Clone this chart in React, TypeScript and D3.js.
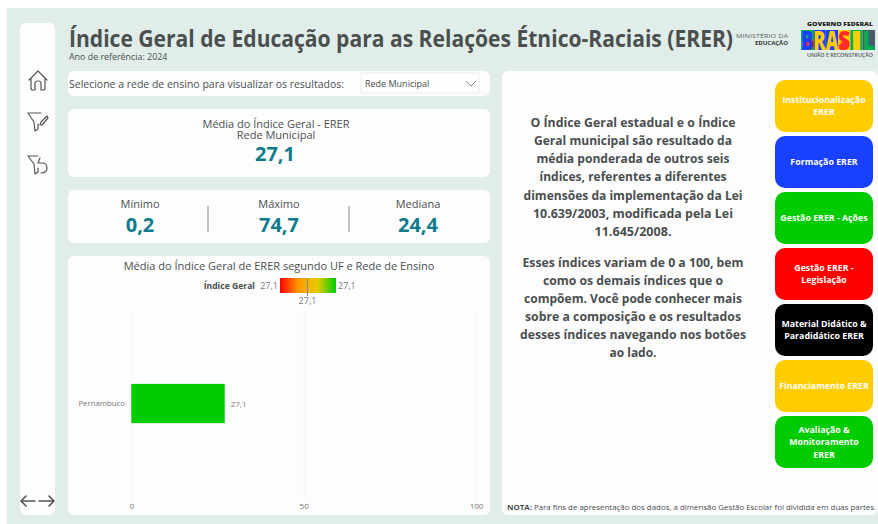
import React, { useEffect, useRef } from 'react';
import * as d3 from 'd3';

const title = 'Índice Geral de Educação para as Relações Étnico-Raciais (ERER)';
const subtitle = 'Ano de referência: 2024';
const selectorLabel = 'Selecione a rede de ensino para visualizar os resultados:';
const selectedNetwork = 'Rede Municipal';

const statLabels = ['Mínimo', 'Máximo', 'Mediana'];
const statValues = ['0,2', '74,7', '24,4'];

const categories = ['Pernambuco'];
const values = [27.1];
const xTicks = [0, 50, 100];
const legendStops = ['#ff0000', '#ff9900', '#e6cc00', '#00cc00'];

const paragraphOne = [
  'O Índice Geral estadual e o Índice',
  'Geral municipal são resultado da',
  'média ponderada de outros seis',
  'índices, referentes a diferentes',
  'dimensões da implementação da Lei',
  '10.639/2003, modificada pela Lei',
  '11.645/2008.',
];
const paragraphTwo = [
  'Esses índices variam de 0 a 100, bem',
  'como os demais índices que o',
  'compõem. Você pode conhecer mais',
  'sobre a composição e os resultados',
  'desses índices navegando nos botões',
  'ao lado.',
];

const buttonLabels = [
  ['Institucionalização', 'ERER'],
  ['Formação ERER'],
  ['Gestão ERER - Ações'],
  ['Gestão ERER -', 'Legislação'],
  ['Material Didático &', 'Paradidático ERER'],
  ['Financiamento ERER'],
  ['Avaliação &', 'Monitoramento', 'ERER'],
];
const buttonColors = ['#ffcc00', '#1a40ff', '#00cc00', '#ff0000', '#000000', '#ffcc00', '#00cc00'];

const logoLetters = ['B', 'R', 'A', 'S', 'I', 'L'];
const logoColors = ['#1a40ff', '#ffcc00', '#ffcc00', '#ff2a2a', '#ffcc00', '#00b050'];
const logoBlocks = ['#00b050', '#1a40ff', '#1a40ff', '#ffcc00', '#00b050', '#4a5a6a'];

const FONT = '"Open Sans", "Noto Sans", sans-serif';
const DARK = '#4a4f4f';
const TEAL = '#0e7c8c';

// line widths of the two paragraphs as they measure in the reference
const widthsOne = [205, 198, 193, 187, 219, 200, 77];
const widthsTwo = [221, 180, 218, 216, 226, 47];

export default function App() {
  const ref = useRef<SVGSVGElement | null>(null);

  useEffect(() => {
    const svg = d3.select(ref.current);
    svg.selectAll('*').remove();
    svg.attr('font-family', FONT);

    const panel = (x: number, y: number, w: number, h: number, r = 6) =>
      svg.append('rect').attr('x', x).attr('y', y).attr('width', w).attr('height', h).attr('rx', r).attr('fill', '#fdfdfe');

    const text = (x: number, y: number, s: string, size: number, fill = DARK, anchor = 'start', weight = 400) =>
      svg.append('text').attr('x', x).attr('y', y).attr('font-size', size).attr('fill', fill)
        .attr('text-anchor', anchor).attr('font-weight', weight).text(s);

    // squeeze a text to the width it has in the reference
    const fit = (sel: any, w: number) => sel.attr('textLength', w).attr('lengthAdjust', 'spacingAndGlyphs');

    // background and cards
    svg.append('rect').attr('x', 7).attr('y', 8).attr('width', 871).attr('height', 516).attr('fill', '#e1ede8');
    panel(20, 23, 35, 492);
    panel(68, 71, 422, 25);
    panel(68, 109, 422, 68);
    panel(68, 190, 422, 53);
    panel(68, 256, 422, 259);
    panel(502, 71, 376, 444);

    // header
    fit(text(69, 47, title, 23, DARK, 'start', 700), 664);
    text(69, 59.5, subtitle, 8.9, DARK);

    // logos
    fit(text(736, 38, 'MINISTÉRIO DA', 6, '#5f6464'), 52);
    fit(text(755, 45, 'EDUCAÇÃO', 5.6, '#333', 'start', 700), 33);
    fit(text(807, 26, 'GOVERNO FEDERAL', 5.6, '#222', 'start', 800), 66);
    fit(text(807, 57, 'UNIÃO E RECONSTRUÇÃO', 4.6, '#555', 'start', 600), 66);
    const logoX = d3.scaleBand<string>().domain(logoLetters).range([801, 875]);
    svg.append('g').selectAll('rect').data(logoLetters).join('rect')
      .attr('x', d => logoX(d)!)
      .attr('y', 30)
      .attr('width', logoX.bandwidth())
      .attr('height', 20)
      .attr('fill', (_, i) => logoBlocks[i]);
    svg.append('circle').attr('cx', 808).attr('cy', 44).attr('r', 6).attr('fill', '#ff2a2a');
    svg.append('circle').attr('cx', 844).attr('cy', 46).attr('r', 4).attr('fill', '#ff2a2a');
    svg.append('g').selectAll('text').data(logoLetters).join('text')
      .attr('x', d => logoX(d)!)
      .attr('y', 50)
      .attr('font-size', 27)
      .attr('font-weight', 800)
      .attr('textLength', logoX.bandwidth())
      .attr('lengthAdjust', 'spacingAndGlyphs')
      .attr('fill', (_, i) => logoColors[i])
      .text(d => d);

    // selector
    fit(text(69, 88, selectorLabel, 11.4, DARK), 275);
    svg.append('rect').attr('x', 361).attr('y', 73).attr('width', 118).attr('height', 20)
      .attr('fill', '#fdfdfe').attr('stroke', '#e8ecec');
    text(365, 87, selectedNetwork, 9, DARK);
    svg.append('path').attr('d', 'M466,81 L471,86 L476,81').attr('fill', 'none').attr('stroke', '#666').attr('stroke-width', 0.8);

    // main average card
    text(276, 128, 'Média do Índice Geral - ERER', 11, DARK, 'middle');
    text(276, 139, selectedNetwork, 11, DARK, 'middle');
    text(275, 161, d3.format('.1f')(values[0]).replace('.', ','), 20, TEAL, 'middle', 700);

    // min, max and median
    const statX = [140, 279, 418];
    statLabels.forEach((label, i) => {
      text(statX[i], 208, label, 11, DARK, 'middle');
      text(statX[i], 232, statValues[i], 20, TEAL, 'middle', 700);
    });
    [208, 349].forEach(x => {
      svg.append('line').attr('x1', x).attr('x2', x).attr('y1', 206).attr('y2', 232)
        .attr('stroke', '#888').attr('stroke-width', 1);
    });

    // chart
    text(279, 270, 'Média do Índice Geral de ERER segundo UF e Rede de Ensino', 11, DARK, 'middle');

    const x = d3.scaleLinear().domain([0, 100]).range([131.3, 476]);
    const y = d3.scaleBand<string>().domain(categories).range([310, 497]).paddingInner(0.79).paddingOuter(0.395);

    const xAxis = svg.append('g').attr('transform', 'translate(0,498)')
      .call(d3.axisBottom(x).tickValues(xTicks).tickSize(-186).tickPadding(5));
    xAxis.select('.domain').remove();
    xAxis.selectAll('line').attr('stroke', '#d5d8d8').attr('stroke-dasharray', '1 3');
    xAxis.selectAll('text').attr('font-family', FONT).attr('font-size', 8).attr('fill', '#777');

    const yAxis = svg.append('g').attr('transform', 'translate(131,0)')
      .call(d3.axisLeft(y).tickSize(0).tickPadding(6));
    yAxis.select('.domain').remove();
    yAxis.selectAll('text').attr('font-family', FONT).attr('font-size', 7.8).attr('fill', '#777');

    const barFill = d3.scaleLinear<string>().domain([0, 27.1]).range(['#ff0000', '#00cc00']);

    svg.append('g').selectAll('rect').data(categories).join('rect')
      .attr('x', x(0))
      .attr('y', d => y(d)!)
      .attr('width', (_, i) => x(values[i]) - x(0))
      .attr('height', y.bandwidth())
      .attr('fill', (_, i) => barFill(values[i]));

    svg.append('g').selectAll('text').data(categories).join('text')
      .attr('x', (_, i) => x(values[i]) + 6)
      .attr('y', d => y(d)! + y.bandwidth() / 2 + 3)
      .attr('font-size', 8)
      .attr('fill', '#777')
      .text((_, i) => d3.format('.1f')(values[i]).replace('.', ','));

    // gradient legend
    const grad = svg.append('defs').append('linearGradient').attr('id', 'legendGrad');
    grad.selectAll('stop').data(legendStops).join('stop')
      .attr('offset', (_, i) => i / (legendStops.length - 1))
      .attr('stop-color', d => d);
    text(255, 289, 'Índice Geral', 8.6, DARK, 'end', 700);
    text(278, 289, '27,1', 9, '#777', 'end');
    text(338, 289, '27,1', 9, '#777');
    text(307.5, 304, '27,1', 9, '#777', 'middle');
    svg.append('rect').attr('x', 280).attr('y', 278).attr('width', 56).attr('height', 15).attr('fill', 'url(#legendGrad)');
    svg.append('line').attr('x1', 307.5).attr('x2', 307.5).attr('y1', 278).attr('y2', 296).attr('stroke', '#8a8a7a');

    // explanation text
    paragraphOne.forEach((line, i) => fit(text(633, 126.7 + i * 18.2, line, 12.4, DARK, 'middle', 700), widthsOne[i]));
    paragraphTwo.forEach((line, i) => fit(text(633, 266.7 + i * 18, line, 12.4, DARK, 'middle', 700), widthsTwo[i]));

    // buttons
    const btnY = d3.scaleBand<number>().domain(d3.range(buttonLabels.length)).range([80, 468]).paddingInner(4 / 56).paddingOuter(0);
    buttonLabels.forEach((lines, i) => {
      const top = btnY(i)!;
      const h = btnY.bandwidth();
      svg.append('rect').attr('x', 775).attr('y', top).attr('width', 98).attr('height', h).attr('rx', 10).attr('fill', buttonColors[i]);
      const lh = 12.5;
      lines.forEach((line, j) => {
        text(824, top + h / 2 + 3.2 + (j - (lines.length - 1) / 2) * lh, line, 8.8, '#ffffff', 'middle', 700);
      });
    });

    // footnote
    const note = fit(text(507, 510, '', 7.8, DARK), 369);
    note.append('tspan').attr('font-weight', 700).text('NOTA: ');
    note.append('tspan').text('Para fins de apresentação dos dados, a dimensão Gestão Escolar foi dividida em duas partes.');

    // sidebar icons
    const icon = (d: string, w = 1.2) =>
      svg.append('path').attr('d', d).attr('fill', 'none').attr('stroke', '#555').attr('stroke-width', w)
        .attr('stroke-linejoin', 'round').attr('stroke-linecap', 'round');
    icon('M29,80 L38,71 L47,80 M31,78 L31,88 Q31,90 33,90 L35,90 L35,83 Q35,81 38,81 Q41,81 41,83 L41,90 L43,90 Q45,90 45,88 L45,78');
    icon('M28,113 L41,113 M28,113 L34,122 L35,131 L38,129 L38,124 M41,122 L47,116 L48,118 L42,125 L40,125 Z');
    icon('M28,156 L38,156 M28,156 L34,164 L35,174 L38,172 L38,168 M40,158 L38,163 L42,163 Q47,163 47,168 Q47,173 41,173');
    icon('M35,501 L21,501 M26,496 L21,501 L26,506', 1.6);
    icon('M39,501 L54,501 M49,496 L54,501 L49,506', 1.6);
  }, []);

  return <svg ref={ref} width={878} height={524} style={{ position: 'fixed', left: 0, top: 0 }} />;
}
